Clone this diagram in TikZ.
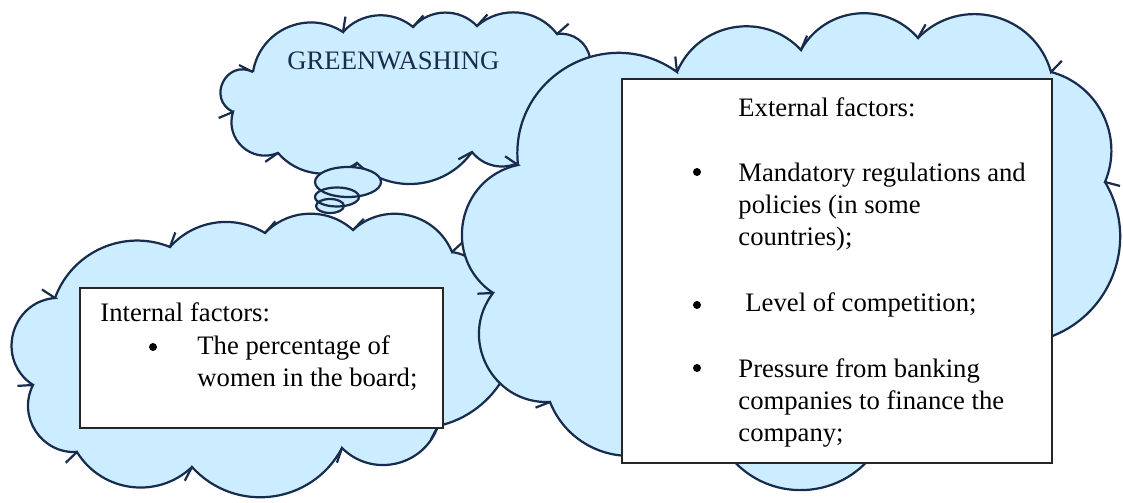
\documentclass[tikz,border=0pt]{standalone}
\usepackage{fontspec}
\setmainfont{Liberation Serif}
\usetikzlibrary{positioning,calc}

\definecolor{cloudblue}{RGB}{204,236,255}
\definecolor{cloudedge}{RGB}{24,44,78}

% scalloped cloud: start point, then x/y/angle of every puff;
% each puff runs on a little past its end point
\newcommand{\drawcloud}[3]{%
  \fill[cloudfill] (#1,#2)
    \foreach \x/\y/\bnd [evaluate=\bnd as \loose using {0.8514/(cos(\bnd/2)*cos(\bnd/2))}] in {#3} {
      to[bend left=\bnd, looseness=\loose] (\x,\y)
    } -- cycle;
  \foreach \x/\y/\bnd [remember=\x as \px (initially #1), remember=\y as \py (initially #2),
      evaluate=\bnd as \loose using {0.8514/(cos(\bnd/2)*cos(\bnd/2))},
      evaluate=\bnd as \turn using {180+\bnd}] in {#3}
    \draw[cloudline] (\px,\py) to[bend left=\bnd, looseness=\loose] (\x,\y)
      -- ($(\x,\y)!7pt!\turn:(\px,\py)$);
}

\begin{document}
\begin{tikzpicture}[x=0.45pt, y=-0.45pt,
    cloudfill/.style={fill=cloudblue},
    cloudline/.style={draw=cloudedge, line width=1pt},
    bubble/.style={draw=cloudedge, line width=1pt},
    factorbox/.style={draw=black!85, fill=white, line width=0.7pt},
    factortext/.style={anchor=base west, inner sep=0pt, align=left, font=\fontsize{12}{14.4}\selectfont},
    bulletdot/.style={circle, fill=black, inner sep=0pt, minimum size=3.6pt}
    ]
    \useasboundingbox (0,0) rectangle (1123,503);

    %Clouds
    \drawcloud{253}{72}{343/32/57, 413/27/44, 477/26/47, 557/34/47, 590/58/44, 600/110/70, 548/108/60, 520/162/60, 472/152/40, 357/163/49, 278/153/42, 233/112/65, 253/72/90}
    \node[factortext, text=cloudedge] (title) at (287,70) {GREENWASHING};

    \foreach \cx/\cy/\rx/\ry in {348/182/33/15, 337/197/22/9.5, 330/206/14/7}
        \fill[cloudblue] (\cx,\cy) ellipse [x radius=\rx, y radius=\ry];
    \foreach \cx/\cy/\rx/\ry in {348/182/33/15, 337/197/22/9.5, 330/206/14/7}
        \draw[bubble] (\cx,\cy) ellipse [x radius=\rx, y radius=\ry];

    \drawcloud{55}{298}{170/247/46, 265/233/40, 353/230/44, 452/252/55, 495/310/45, 505/375/40, 438/426/25, 342/448/58, 192/467/55, 77/452/51, 33/385/60, 55/298/71}

    \drawcloud{518}{165}{677/72/66, 801/50/57, 918/38/55, 1051/72/60, 1105/182/49, 1030/342/56, 878/447/20, 722/445/59, 660/450/30, 550/402/45, 493/293/65, 518/165/67}

    %Boxes (multi-line texts sit on the baseline of their last line)
    \draw[factorbox] (80,288) rectangle (443,428);
    \node[factortext] (internal) at (100,322) {Internal factors:};
    \node[bulletdot] (dotwomen) at (153,347) {};
    \node[factortext] (women) at (197,387) {The percentage of\\women in the board;};

    \draw[factorbox] (622,79) rectangle (1052,463);
    \node[factortext] (external) at (738,117) {External factors:};
    \node[bulletdot] (dotrules) at (697,172) {};
    \node[factortext] (rules) at (738,246) {Mandatory regulations and\\policies (in some\\countries);};
    \node[bulletdot] (dotcomp) at (697,305) {};
    \node[factortext] (comp) at (745,312) {Level of competition;};
    \node[bulletdot] (dotbank) at (697,368) {};
    \node[factortext] (bank) at (738,442) {Pressure from banking\\companies to finance the\\company;};
\end{tikzpicture}
\end{document}
